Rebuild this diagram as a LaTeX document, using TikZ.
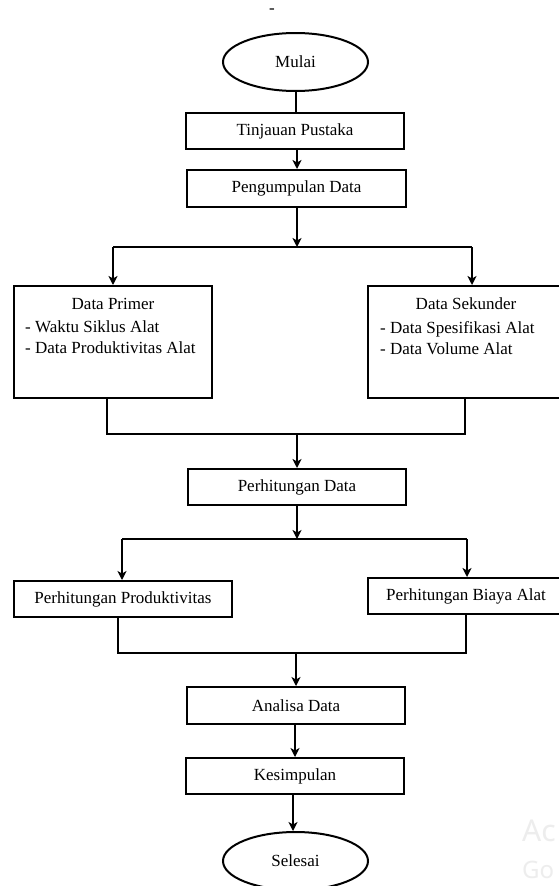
\documentclass[tikz,border=0pt]{standalone}
\usepackage{fontspec}
\setmainfont{Liberation Serif}
\newfontfamily\wmfont{Noto Sans}
\usetikzlibrary{shapes.geometric,arrows.meta}
\begin{document}
\begin{tikzpicture}[x=1pt,y=-1pt,
  every node/.style={font=\fontsize{17}{21}\selectfont, inner sep=0pt},
  conn/.style={line width=2pt, draw=black},
  arrconn/.style={conn, -{Stealth[length=9pt,width=9pt,inset=2.5pt]}},
  procbox/.style={draw, line width=2pt, rectangle, minimum width=#1, minimum height=36pt},
  term/.style={draw, line width=2pt, ellipse, minimum width=145pt, minimum height=58pt},
  tallbox/.style={draw, line width=2pt, rectangle, minimum width=#1, minimum height=112pt}
]
\useasboundingbox (0,0) rectangle (558,886);
\fill[white] (0,0) rectangle (558,886);

% stray mark at top
\node (mark) at (272,11) {-};

% nodes
\node[term] (mulai) at (295.5,62) {Mulai};
\node[procbox=218pt] (tp) at (295,131) {Tinjauan Pustaka};
\node[procbox=219pt, minimum height=37pt] (pd) at (296.5,188.5) {Pengumpulan Data};
\node[tallbox=198pt] (dp) at (113,342) {};
\node[tallbox=196pt] (ds) at (466,342) {};
\node (dpt) at (113,304) {Data Primer};
\node[anchor=north west, align=left] (dpl) at (25,321) {- Waktu Siklus Alat\\- Data Produktivitas Alat};
\node (dst) at (466,304) {Data Sekunder};
\node[anchor=north west, align=left] (dsl) at (380,321) {- Data Spesifikasi Alat\\- Data Volume Alat};
\node[procbox=218pt] (ph) at (297,487) {Perhitungan Data};
\node[procbox=218pt] (pp) at (123,599) {Perhitungan Produktivitas};
\node[procbox=196pt] (pb) at (466,596) {Perhitungan Biaya Alat};
\node[procbox=218pt, minimum height=37pt] (ad) at (296,705.5) {Analisa Data};
\node[procbox=218pt] (ks) at (295,776) {Kesimpulan};
\node[term] (selesai) at (295.5,861) {Selesai};

% junction coordinates
\coordinate (s1) at (297,247);
\coordinate (s1l) at (113,247);
\coordinate (s1r) at (472,247);
\coordinate (m1) at (297,434);
\coordinate (m1l) at (107,434);
\coordinate (m1r) at (465,434);
\coordinate (s2) at (297,539);
\coordinate (s2l) at (122,539);
\coordinate (s2r) at (467,539);
\coordinate (m2) at (296,653);
\coordinate (m2l) at (118,653);
\coordinate (m2r) at (466,653);
\coordinate (c0) at (296,0);
\coordinate (c1) at (297,0);
\coordinate (c2) at (295,0);
\coordinate (c3) at (293,0);

% connectors
\draw[conn] (mulai.south -| c0) -- (c0 |- tp.north);
\draw[arrconn] (tp.south -| c1) -- (c1 |- pd.north);
\draw[arrconn] (pd.south -| s1) -- (s1);
\draw[conn] (s1l) -- (s1r);
\draw[arrconn] (s1l) -- (s1l |- dp.north);
\draw[arrconn] (s1r) -- (s1r |- ds.north);
\draw[conn] (m1l |- dp.south) -- (m1l) -- (m1r) -- (m1r |- ds.south);
\draw[arrconn] (m1) -- (m1 |- ph.north);
\draw[arrconn] (ph.south -| s2) -- (s2);
\draw[conn] (s2l) -- (s2r);
\draw[arrconn] (s2l) -- (s2l |- pp.north);
\draw[arrconn] (s2r) -- (s2r |- pb.north);
\draw[conn] (m2l |- pp.south) -- (m2l) -- (m2r) -- (m2r |- pb.south);
\draw[arrconn] (m2) -- (m2 |- ad.north);
\draw[arrconn] (ad.south -| c2) -- (c2 |- ks.north);
\draw[arrconn] (ks.south -| c3) -- (c3 |- selesai.north);

% faint watermark fragments
\node[anchor=west, font=\wmfont\fontsize{30}{36}\selectfont, text=black!7] (wm1) at (522,831) {Ac};
\node[anchor=west, font=\wmfont\fontsize{24}{30}\selectfont, text=black!7] (wm2) at (522,870) {Go};
\end{tikzpicture}
\end{document}
